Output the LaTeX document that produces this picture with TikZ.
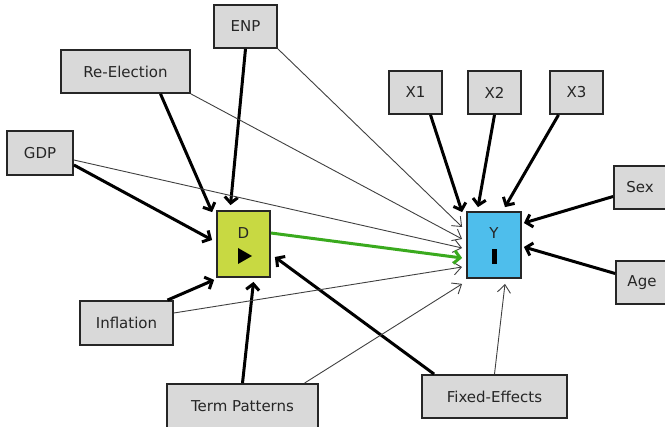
\documentclass[tikz,border=0pt]{standalone}
\usepackage{fontspec}
\setmainfont{DejaVu Sans}
\usetikzlibrary{arrows.meta,calc}
\definecolor{boxgray}{RGB}{217,217,217}
\definecolor{dyellow}{RGB}{200,217,66}
\definecolor{yblue}{RGB}{78,190,236}
\definecolor{pathgreen}{RGB}{58,170,30}
\begin{document}
\begin{tikzpicture}[x=1pt,y=-1pt,
  var/.style={draw=black!85,line width=1.8pt,fill=boxgray,inner sep=0pt,
    font=\fontsize{15}{17}\selectfont,text=black!85},
  strong/.style={line width=3pt,-{Straight Barb[length=6pt,width=13pt]}},
  weak/.style={line width=0.9pt,draw=black!75,-{Straight Barb[length=8pt,width=13pt]}}]
  \useasboundingbox (0,0) rectangle (665,427);
  % exposure and outcome
  \node[var,fill=dyellow,minimum width=53pt,minimum height=66pt] (d) at (243.5,244) {};
  \node[var,fill=yblue,minimum width=54pt,minimum height=66pt] (y) at (494,245) {};
  \node[font=\fontsize{15}{17}\selectfont,text=black!85] (dlab) at (243.5,233) {D};
  \node[font=\fontsize{15}{17}\selectfont,text=black!85] (ylab) at (494,233) {Y};
  \fill (238,248) -- (238,264) -- (252,256) -- cycle;
  \fill (491.5,249) rectangle (496.5,264);
  % covariates
  \node[var,minimum width=63pt,minimum height=43pt] (enp) at (245.5,26.5) {ENP};
  \node[var,minimum width=129pt,minimum height=43pt] (reel) at (125.5,71.5) {Re-Election};
  \node[var,minimum width=66pt,minimum height=44pt] (gdp) at (40,153) {GDP};
  \node[var,minimum width=93pt,minimum height=44pt] (infl) at (126.5,323) {Inflation};
  \node[var,minimum width=151pt,minimum height=44pt] (term) at (242.5,406) {Term Patterns};
  \node[var,minimum width=145pt,minimum height=43pt] (fixed) at (494.5,396.5) {Fixed-Effects};
  \node[var,minimum width=53pt,minimum height=43pt] (x1) at (415.5,92.5) {X1};
  \node[var,minimum width=53pt,minimum height=43pt] (x2) at (494.5,92.5) {X2};
  \node[var,minimum width=53pt,minimum height=43pt] (x3) at (576.5,92.5) {X3};
  \node[var,minimum width=60pt,minimum height=43pt] (sex) at (644,187.5) {\hspace*{-8pt}Sex};
  \node[var,minimum width=60pt,minimum height=43pt] (age) at (646,282.5) {\hspace*{-8pt}Age};
  % paths into D
  \draw[strong] ($(gdp.east)+(0,12)$) -- ($(d.west)+(-4,-4)$);
  \draw[strong] ($(reel.south)+(35,0)$) -- ($(d.north west)+(-4,2)$);
  \draw[strong] (enp.south) -- ($(d.north)+(-13,-5)$);
  \draw[strong] ($(infl.north)+(41,0)$) -- ($(d.south west)+(-2,2)$);
  \draw[strong] (term.north) -- ($(d.south)+(10,4)$);
  \draw[strong] ($(fixed.north west)+(13,0)$) -- ($(d.east)+(4,13)$);
  % paths into Y
  \draw[weak] (enp.south east) -- ($(y.west)+(-4,-18)$);
  \draw[weak] (reel.south east) -- ($(y.west)+(-4,-6)$);
  \draw[weak] ($(gdp.east)+(0,7)$) -- ($(y.west)+(-4,3)$);
  \draw[weak] ($(infl.east)+(0,-10)$) -- ($(y.west)+(-4,22)$);
  \draw[weak] ($(term.north)+(62,0)$) -- ($(y.south west)+(-4,5)$);
  \draw[weak] (fixed.north) -- ($(y.south)+(11,5)$);
  \draw[strong,pathgreen] ($(d.east)+(0,-11)$) -- ($(y.west)+(-4,13)$);
  \draw[strong] ($(x1.south)+(15,0)$) -- ($(y.north west)+(-4,1)$);
  \draw[strong] (x2.south) -- ($(y.north)+(-16,-4)$);
  \draw[strong] ($(x3.south)+(-18,0)$) -- ($(y.north)+(11,-4)$);
  \draw[strong] ($(sex.west)+(0,9)$) -- ($(y.east)+(2,-22)$);
  \draw[strong] ($(age.west)+(0,-9)$) -- ($(y.east)+(2,2)$);
\end{tikzpicture}
\end{document}
